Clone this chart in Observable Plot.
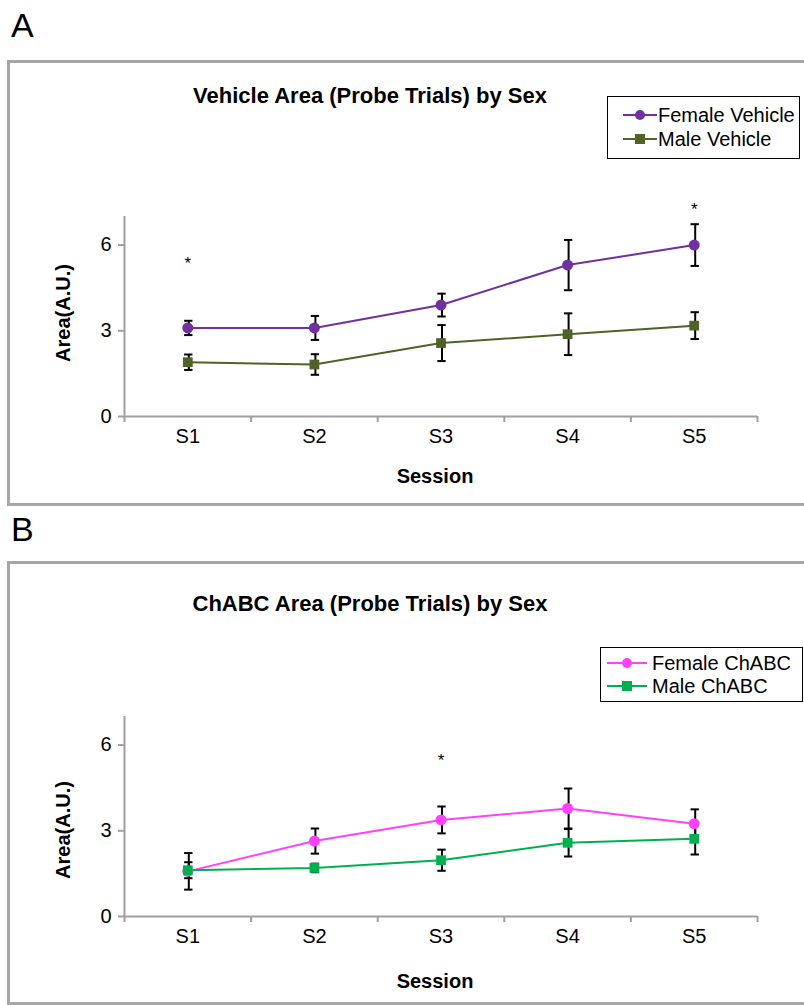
<!DOCTYPE html>
<html><head><meta charset="utf-8">
<script src="https://cdn.jsdelivr.net/npm/d3@7"></script>
<script src="https://cdn.jsdelivr.net/npm/@observablehq/plot@0.6"></script>
<style>
body{margin:0;background:#fff;font-family:"Liberation Sans",Arial,sans-serif;color:#000;}
#page{position:relative;width:804px;height:1005px;overflow:hidden;background:#fff;}
.abs{position:absolute;}
.panelLabel{font-size:34px;line-height:1;}
.frame{border:3px solid #a6a6a6;box-sizing:border-box;}
.ctr{transform:translate(-50%,-50%);white-space:nowrap;line-height:1;}
.title{font-weight:bold;font-size:22px;}
.xlab{font-weight:bold;font-size:20px;}
.ylab{font-weight:bold;font-size:20px;transform:translate(-50%,-50%) rotate(-90deg);white-space:nowrap;line-height:1;}
.legend{border:1.5px solid #000;box-sizing:border-box;background:#fff;}
.ltext{font-size:20px;line-height:1;transform:translateY(-50%);white-space:nowrap;}
.sw{transform:translateY(-50%);}
.plot{position:absolute;left:0;}
</style>
</head>
<body>
<div id="page">
  <div class="abs panelLabel" style="left:11px;top:8px;">A</div>
  <div class="abs frame" style="left:7px;top:60px;width:820px;height:446px;"></div>
  <div class="abs ctr title" style="left:370px;top:96px;">Vehicle Area (Probe Trials) by Sex</div>
  <div class="abs ylab" style="left:63px;top:313px;">Area(A.U.)</div>
  <div class="abs ctr xlab" style="left:435px;top:476px;">Session</div>

  <div class="abs panelLabel" style="left:11px;top:512px;">B</div>
  <div class="abs frame" style="left:7px;top:561px;width:820px;height:444px;"></div>
  <div class="abs ctr title" style="left:370px;top:604px;">ChABC Area (Probe Trials) by Sex</div>
  <div class="abs ylab" style="left:63px;top:830px;">Area(A.U.)</div>
  <div class="abs ctr xlab" style="left:435px;top:981px;">Session</div>

  <div id="plotA" class="plot" style="top:190px;"></div>
  <div id="plotB" class="plot" style="top:690px;"></div>
  <div id="legA"></div>
  <div id="legB"></div>
</div>
<script>
// ---- data ----
const sessions = ["S1", "S2", "S3", "S4", "S5"];
const yTicks = [0, 3, 6];

const vehicleNames = ["Female Vehicle", "Male Vehicle"];
const vehicleColors = ["#7030A0", "#4F6228"];
const femaleVehicle = [3.1, 3.1, 3.9, 5.3, 6.0];
const femaleVehicleErr = [0.25, 0.42, 0.4, 0.88, 0.73];
const maleVehicle = [1.9, 1.82, 2.57, 2.88, 3.18];
const maleVehicleErr = [0.27, 0.36, 0.63, 0.73, 0.47];
const vehicleStars = [{s: "S1", y: 5.35}, {s: "S5", y: 7.25}];

const chabcNames = ["Female ChABC", "Male ChABC"];
const chabcColors = ["#FF40FF", "#00B050"];
const femaleChABC = [1.58, 2.64, 3.38, 3.78, 3.25];
const femaleChABCErr = [0.64, 0.44, 0.47, 0.7, 0.5];
const maleChABC = [1.62, 1.7, 1.97, 2.58, 2.72];
const maleChABCErr = [0.28, 0.15, 0.37, 0.48, 0.55];
const chabcStars = [{s: "S3", y: 5.47}];

const symbols = ["circle", "square"];

function rows(names, values, errs) {
  return names.flatMap((name, k) => values[k].map((v, i) => ({x: i + 1, s: sessions[i], v, e: errs[k][i], name})));
}

function panel(names, colors, values, errs, stars) {
  const data = rows(names, values, errs);
  const edges = d3.range(0.5, sessions.length + 1, 1);
  const gray = "#a0a0a0";
  const cap = 0.033;
  return Plot.plot({
    width: 804, height: 260,
    marginLeft: 124, marginRight: 47, marginTop: 26, marginBottom: 34,
    style: {fontFamily: "Liberation Sans, Arial, sans-serif", fontSize: "20px", background: "transparent", overflow: "visible"},
    x: {domain: [0.5, sessions.length + 0.5], label: null},
    y: {domain: [0, 7], label: null},
    color: {domain: names, range: colors},
    symbol: {domain: names, range: symbols},
    marks: [
      Plot.ruleY([0], {stroke: gray, strokeWidth: 2}),
      Plot.ruleX([0.5], {stroke: gray, strokeWidth: 2}),
      Plot.axisY({ticks: yTicks, tickSize: 6, tickPadding: 7, tickFormat: d3.format("d"), stroke: gray, strokeWidth: 2, fill: "#000", fontSize: 20, label: null}),
      Plot.axisX({ticks: edges, tickSize: 6, tickFormat: () => "", stroke: gray, strokeWidth: 2, label: null}),
      Plot.axisX({ticks: d3.range(1, sessions.length + 1), tickSize: 0, tickPadding: 12, tickFormat: d => sessions[d - 1], fill: "#000", fontSize: 20, label: null}),
      Plot.line(data, {x: "x", y: "v", z: "name", stroke: "name", strokeWidth: 2}),
      Plot.ruleX(data, {x: "x", y1: d => d.v - d.e, y2: d => d.v + d.e, stroke: "#000", strokeWidth: 2, dx: 1}),
      Plot.ruleY(data, {y: d => d.v + d.e, x1: d => d.x - cap, x2: d => d.x + cap, stroke: "#000", strokeWidth: 2, dx: 1}),
      Plot.ruleY(data, {y: d => d.v - d.e, x1: d => d.x - cap, x2: d => d.x + cap, stroke: "#000", strokeWidth: 2, dx: 1}),
      Plot.dot(data, {x: "x", y: "v", fill: "name", symbol: "name", r: 5.5, stroke: "none"}),
      Plot.text(stars, {x: d => sessions.indexOf(d.s) + 1, y: "y", text: () => "*", fontSize: 17, fill: "#000"})
    ]
  });
}

document.getElementById("plotA").appendChild(
  panel(vehicleNames, vehicleColors, [femaleVehicle, maleVehicle], [femaleVehicleErr, maleVehicleErr], vehicleStars));
document.getElementById("plotB").appendChild(
  panel(chabcNames, chabcColors, [femaleChABC, maleChABC], [femaleChABCErr, maleChABCErr], chabcStars));

// ---- legends ----
function legend(el, names, colors, box, rowsY, swX, swW, textX) {
  let html = `<div class="abs legend" style="left:${box[0]}px;top:${box[1]}px;width:${box[2]}px;height:${box[3]}px;"></div>`;
  names.forEach((n, k) => {
    const c = colors[k];
    const m = symbols[k] === "circle"
      ? `<circle cx="${swW / 2}" cy="7" r="5" fill="${c}"/>`
      : `<rect x="${swW / 2 - 5}" y="2" width="10" height="10" fill="${c}"/>`;
    html += `<svg class="abs sw" style="left:${swX}px;top:${rowsY[k]}px" width="${swW}" height="14"><line x1="0" x2="${swW}" y1="7" y2="7" stroke="${c}" stroke-width="2"/>${m}</svg>`;
    html += `<div class="abs ltext" style="left:${textX}px;top:${rowsY[k]}px;">${n}</div>`;
  });
  el.innerHTML = html;
}
legend(document.getElementById("legA"), vehicleNames, vehicleColors, [607, 96, 193, 63], [115, 139], 623, 34, 658);
legend(document.getElementById("legB"), chabcNames, chabcColors, [600, 647, 203, 55], [663, 686], 607, 40, 652);
</script>
</body></html>
